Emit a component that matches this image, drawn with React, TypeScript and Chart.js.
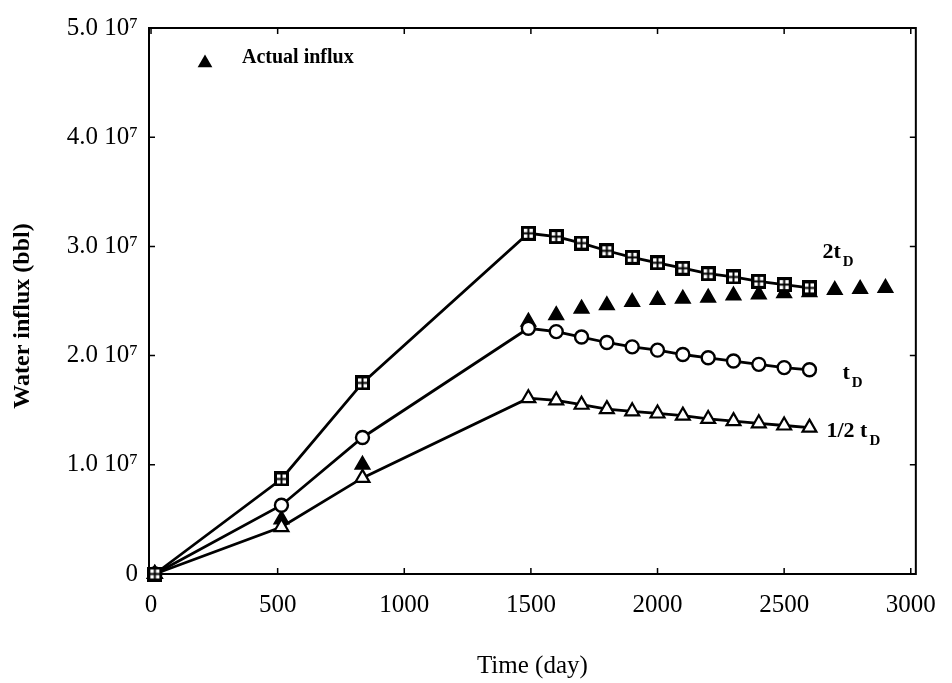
import React, { useEffect, useRef } from 'react';
import { Chart, registerables } from 'chart.js';

Chart.register(...registerables);

// Time (days)
const modelTimes = [15, 515, 835, 1490, 1600, 1700, 1800, 1900, 2000, 2100, 2200, 2300, 2400, 2500, 2600];
const actualTimes = [15, 515, 835, 1490, 1600, 1700, 1800, 1900, 2000, 2100, 2200, 2300, 2400, 2500, 2600, 2700, 2800, 2900];

// Water influx, in units of 10^7 bbl
const twoTdInflux = [0, 0.87, 1.75, 3.12, 3.09, 3.03, 2.96, 2.9, 2.85, 2.8, 2.75, 2.72, 2.68, 2.65, 2.62];
const tdInflux = [0, 0.63, 1.25, 2.25, 2.22, 2.17, 2.12, 2.08, 2.05, 2.01, 1.98, 1.95, 1.92, 1.89, 1.87];
const halfTdInflux = [0, 0.43, 0.88, 1.61, 1.59, 1.55, 1.51, 1.49, 1.47, 1.45, 1.42, 1.4, 1.38, 1.36, 1.34];
const actualInflux = [0, 0.5, 1.0, 2.31, 2.37, 2.43, 2.46, 2.49, 2.51, 2.52, 2.53, 2.55, 2.56, 2.57, 2.58, 2.6, 2.61, 2.62];

const UNIT = 1e7;
const xTickValues = [0, 500, 1000, 1500, 2000, 2500, 3000];
const yTickValues = [0, 1e7, 2e7, 3e7, 4e7, 5e7];

const seriesNames = ['2t_D', 't_D', '1/2 t_D', 'Actual influx'];
const curveMain = ['2t', 't', '1/2 t'];
const curveSub = 'D';

const SERIF = "'Liberation Serif', 'Times New Roman', Times, serif";

function toPoints(xs: number[], ys: number[]) {
  return xs.map((x, i) => ({ x, y: ys[i] * UNIT }));
}

function makeSquareMarker(): HTMLCanvasElement {
  const c = document.createElement('canvas');
  c.width = 15;
  c.height = 15;
  const g = c.getContext('2d')!;
  g.fillStyle = '#000';
  g.fillRect(0, 0, 15, 15);
  g.fillStyle = '#fff';
  g.fillRect(3, 3, 3.5, 3.5);
  g.fillRect(8.5, 3, 3.5, 3.5);
  g.fillRect(3, 8.5, 3.5, 3.5);
  g.fillRect(8.5, 8.5, 3.5, 3.5);
  return c;
}

function triangle(ctx: CanvasRenderingContext2D, x: number, y: number, r: number) {
  ctx.beginPath();
  ctx.moveTo(x, y - r);
  ctx.lineTo(x + r * Math.sin(Math.PI / 3), y + r / 2);
  ctx.lineTo(x - r * Math.sin(Math.PI / 3), y + r / 2);
  ctx.closePath();
}

const framePlugin = {
  id: 'frameTicks',
  beforeDatasetsDraw(chart: any) {
    const { ctx, chartArea: a, scales } = chart;
    const xs = scales.x;
    const ys = scales.y;
    ctx.save();
    ctx.strokeStyle = '#000';
    ctx.lineWidth = 2;
    ctx.strokeRect(a.left, a.top, a.right - a.left, a.bottom - a.top);
    ctx.lineWidth = 1.5;
    const L = 6;
    ctx.beginPath();
    xTickValues.forEach((v) => {
      const px = xs.getPixelForValue(v);
      ctx.moveTo(px, a.bottom);
      ctx.lineTo(px, a.bottom - L);
      ctx.moveTo(px, a.top);
      ctx.lineTo(px, a.top + L);
    });
    yTickValues.forEach((v) => {
      const py = ys.getPixelForValue(v);
      ctx.moveTo(a.left, py);
      ctx.lineTo(a.left + L, py);
      ctx.moveTo(a.right, py);
      ctx.lineTo(a.right - L, py);
    });
    ctx.stroke();
    ctx.restore();
  },
};

const labelPlugin = {
  id: 'curveLabels',
  afterDatasetsDraw(chart: any) {
    const { ctx, chartArea: a } = chart;
    const offsets = [
      { dx: 13, dy: -30 },
      { dx: 33, dy: 9 },
      { dx: 17, dy: 9 },
    ];
    ctx.save();
    ctx.fillStyle = '#000';
    ctx.textBaseline = 'alphabetic';
    ctx.textAlign = 'left';
    curveMain.forEach((main, i) => {
      const meta = chart.getDatasetMeta(i);
      const last = meta.data[meta.data.length - 1];
      const x = last.x + offsets[i].dx;
      const y = last.y + offsets[i].dy;
      ctx.font = `bold 22px ${SERIF}`;
      ctx.fillText(main, x, y);
      const w = ctx.measureText(main).width;
      ctx.font = `bold 15px ${SERIF}`;
      ctx.fillText(curveSub, x + w + 2, y + 8);
    });

    // legend for the measured series (inside the plot, top-left)
    const ds = chart.data.datasets[3];
    const lx = a.left + 56;
    const ly = a.top + 35;
    ctx.fillStyle = ds.backgroundColor;
    triangle(ctx, lx, ly, 8.5);
    ctx.fill();
    ctx.font = `bold 20px ${SERIF}`;
    ctx.fillStyle = '#000';
    ctx.textBaseline = 'middle';
    ctx.fillText(ds.label, lx + 37, ly - 5);
    ctx.restore();
  },
};

export default function App() {
  const ref = useRef<HTMLCanvasElement | null>(null);

  useEffect(() => {
    if (!ref.current) return;
    const square = makeSquareMarker();
    const chart = new Chart(ref.current, {
      type: 'scatter',
      data: {
        datasets: [
          {
            label: seriesNames[0],
            data: toPoints(modelTimes, twoTdInflux),
            showLine: true,
            borderColor: '#000',
            borderWidth: 2.8,
            pointStyle: square as any,
            pointRadius: 7,
            backgroundColor: '#fff',
            clip: false as any,
            order: 1,
          },
          {
            label: seriesNames[1],
            data: toPoints(modelTimes, tdInflux),
            showLine: true,
            borderColor: '#000',
            borderWidth: 2.8,
            pointStyle: 'circle',
            pointRadius: 6.5,
            pointBorderWidth: 2.4,
            backgroundColor: '#fff',
            clip: false as any,
            order: 2,
          },
          {
            label: seriesNames[2],
            data: toPoints(modelTimes, halfTdInflux),
            showLine: true,
            borderColor: '#000',
            borderWidth: 2.8,
            pointStyle: 'triangle',
            pointRadius: 8,
            pointBorderWidth: 2.2,
            backgroundColor: '#fff',
            clip: false as any,
            order: 3,
          },
          {
            label: seriesNames[3],
            data: toPoints(actualTimes, actualInflux),
            showLine: false,
            borderColor: '#000',
            borderWidth: 1.5,
            pointStyle: 'triangle',
            pointRadius: 8.5,
            backgroundColor: '#000',
            clip: false as any,
            order: 10,
          },
        ],
      },
      options: {
        animation: false,
        responsive: false,
        maintainAspectRatio: false,
        layout: { padding: { left: 0, top: 28, right: 35, bottom: 0 } },
        plugins: {
          tooltip: { enabled: false },
          legend: { display: false },
        },
        scales: {
          x: {
            type: 'linear',
            min: -8,
            max: 3020,
            afterBuildTicks: (s: any) => {
              s.ticks = xTickValues.map((v) => ({ value: v }));
            },
            afterFit: (s: any) => {
              s.height = 109;
            },
            grid: { display: false, drawTicks: false },
            border: { display: false },
            ticks: {
              padding: 16,
              color: '#000',
              font: { family: SERIF, size: 25 },
              maxRotation: 0,
              callback: (v: any) => String(v),
            },
            title: {
              display: true,
              text: 'Time (day)',
              color: '#000',
              font: { family: SERIF, size: 25 },
              padding: { top: 0, bottom: 2 },
            },
          },
          y: {
            type: 'linear',
            min: 0,
            max: 5e7,
            afterBuildTicks: (s: any) => {
              s.ticks = yTickValues.map((v) => ({ value: v }));
            },
            afterFit: (s: any) => {
              s.width = 149;
            },
            grid: { display: false, drawTicks: false },
            border: { display: false },
            ticks: {
              padding: 11,
              color: '#000',
              font: { family: SERIF, size: 25 },
              callback: (v: any) => (v === 0 ? '0' : (v / UNIT).toFixed(1) + ' 10\u2077'),
            },
            title: {
              display: true,
              text: 'Water influx (bbl)\u00a0\u00a0\u00a0\u00a0\u00a0',
              color: '#000',
              font: { family: SERIF, size: 24, weight: 'bold' },
              padding: { top: 8, bottom: 0 },
            },
          },
        },
      },
      plugins: [framePlugin, labelPlugin],
    });
    return () => chart.destroy();
  }, []);

  return (
    <div style={{ position: 'absolute', left: 0, top: 0, width: 952, height: 683, background: '#fff' }}>
      <canvas ref={ref} width={952} height={683} style={{ width: 952, height: 683, display: 'block' }} />
    </div>
  );
}
